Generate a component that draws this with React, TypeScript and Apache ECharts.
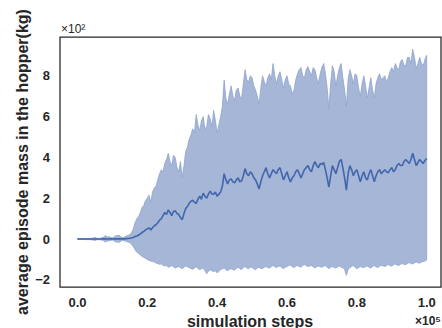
import React, { useEffect, useRef } from "react";
import * as echarts from "echarts";

// x in units of 1e5 simulation steps, sampled every 0.005 (500 steps)
const SAMPLE_STEP = 0.005;
// values in units of 1e2 kg
const meanMass = [
  0, 0, 0, 0, 0, 0, 0, 0, 0, 0,
  0, 0, 0, 0, 0, 0.01, 0.01, 0, 0, 0.01,
  0, 0.01, 0.01, 0.01, 0.01, 0.01, 0.01, 0.01, 0.02, 0.03,
  0.04, 0.06, 0.08, 0.12, 0.15, 0.2, 0.25, 0.32, 0.38, 0.45,
  0.5, 0.55, 0.45, 0.55, 0.65, 0.7, 0.8, 0.92, 1.0, 1.15,
  1.3, 1.2, 1.42, 1.3, 1.15, 1.35, 1.38, 1.25, 1.2, 1.05,
  0.95, 1.25, 1.5, 1.6, 1.75, 1.85, 1.9, 1.8, 1.75, 1.95,
  2.1, 1.95, 2.25, 2.1, 2.0, 2.2, 2.35, 2.2, 2.2, 2.3,
  2.1, 2.2, 2.3, 2.6, 3.2, 2.9, 2.7, 2.9, 2.95, 2.8,
  2.75, 2.9, 3.0, 2.8, 2.85, 3.1, 3.45, 3.2, 3.1, 3.3,
  3.2, 3.0, 2.9, 2.7, 2.45, 2.8, 3.1, 3.3, 3.5, 3.2,
  3.0, 3.2, 3.4, 3.3, 3.2, 3.4, 3.5, 3.2, 2.9, 3.1,
  3.3, 3.0, 2.8, 3.0, 3.1, 3.3, 3.4, 3.2, 3.0, 3.2,
  3.4, 3.5, 3.6, 3.4, 3.3, 3.6, 3.8, 3.6, 3.5, 3.7,
  3.65, 3.75, 3.4, 3.0, 2.55, 3.1, 3.6, 3.4, 3.2, 3.5,
  3.8, 3.9, 3.5, 3.0, 2.4, 3.2, 3.6, 3.4, 3.1, 3.3,
  3.4, 3.1, 2.8, 3.1, 3.3, 3.0, 2.9, 3.2, 3.4, 3.1,
  2.8, 3.1, 3.3, 3.4, 3.2, 3.3, 3.4, 3.3, 3.25, 3.4,
  3.5, 3.3, 3.4, 3.6, 3.7, 3.6, 3.6, 3.8, 3.9, 3.8,
  3.7, 3.9, 4.2, 3.9, 3.6, 3.75, 3.9, 3.8, 3.7, 3.85,
  3.95,
];
const upperMass = [
  0.02, 0.02, 0.02, 0.02, 0.02, 0.03, 0.03, 0.03, 0.04, 0.05,
  0.08, 0.04, 0.03, 0.04, 0.06, 0.1, 0.17, 0.1, 0.12, 0.08,
  0.06, 0.1, 0.16, 0.17, 0.18, 0.1, 0.07, 0.1, 0.15, 0.18,
  0.22, 0.32, 0.5, 0.8, 1.0, 1.1, 1.3, 1.55, 1.65, 1.9,
  2.0, 2.15, 1.8, 2.3, 2.5, 2.6, 2.9, 3.2, 3.4, 3.3,
  3.7, 3.9, 4.2, 3.8, 3.6, 4.1, 4.0, 3.5, 3.3, 3.8,
  3.0, 3.6, 4.3, 4.5, 4.9, 5.1, 5.4, 5.2, 6.1, 5.6,
  5.3, 5.8, 6.0, 5.4, 5.5, 6.1, 5.9, 5.5, 6.3, 5.8,
  5.2, 5.6, 6.0, 6.5, 7.8, 6.9, 6.6, 7.1, 7.5, 7.0,
  6.8, 7.3, 7.4, 7.0, 6.9, 7.6, 8.3, 7.8, 7.7, 8.0,
  7.9, 7.5, 7.3, 7.0, 6.6, 7.4, 8.0, 7.7, 7.5, 7.9,
  8.1, 7.8, 8.6, 8.0, 7.6, 8.0, 8.2, 7.8, 7.4, 7.8,
  8.0, 7.6, 7.5, 7.1, 7.3, 7.8, 8.1, 8.3, 8.4, 8.0,
  7.9, 8.3, 8.45, 8.2, 8.0, 8.4, 8.3, 7.9, 7.6, 8.1,
  8.4, 8.6, 8.1, 7.4, 6.4, 7.6, 8.5, 8.2, 7.5, 8.0,
  8.4, 8.6, 7.9, 7.3, 6.5, 7.8, 8.3, 8.0, 7.6, 8.1,
  8.0, 7.4, 7.0, 7.6, 8.0, 7.5, 6.9, 7.4, 7.9, 7.3,
  6.9, 7.6, 7.9, 8.1, 7.8, 7.9, 8.0, 7.7, 7.9, 8.2,
  8.4, 8.2, 8.6, 8.4, 8.3, 8.7, 8.8, 8.5, 8.5, 8.9,
  8.9, 8.6, 9.3, 8.9, 8.35, 8.6, 8.9, 8.6, 8.5, 8.8,
  9.0,
];
const lowerMass = [
  -0.02, -0.02, -0.02, -0.02, -0.02, -0.03, -0.03, -0.03, -0.04, -0.05,
  -0.07, -0.04, -0.03, -0.04, -0.05, -0.08, -0.15, -0.09, -0.1, -0.07,
  -0.05, -0.09, -0.14, -0.15, -0.16, -0.09, -0.06, -0.09, -0.12, -0.15,
  -0.18, -0.26, -0.38, -0.52, -0.65, -0.7, -0.78, -0.85, -0.9, -0.95,
  -1.0, -1.05, -1.08, -1.1, -1.12, -1.18, -1.2, -1.24, -1.22, -1.28,
  -1.32, -1.3, -1.38, -1.35, -1.3, -1.36, -1.42, -1.38, -1.35, -1.4,
  -1.45, -1.38, -1.32, -1.36, -1.4, -1.45, -1.48, -1.42, -1.36, -1.44,
  -1.5, -1.45, -1.42, -1.55, -1.7, -1.58, -1.5, -1.55, -1.6, -1.55,
  -1.66, -1.58, -1.5, -1.46, -1.42, -1.5, -1.55, -1.48, -1.45, -1.5,
  -1.52, -1.44, -1.38, -1.45, -1.5, -1.4, -1.35, -1.42, -1.45, -1.38,
  -1.4, -1.46, -1.5, -1.42, -1.38, -1.44, -1.45, -1.38, -1.35, -1.4,
  -1.42, -1.35, -1.3, -1.36, -1.4, -1.34, -1.32, -1.4, -1.45, -1.38,
  -1.35, -1.3, -1.28, -1.35, -1.4, -1.33, -1.3, -1.35, -1.38, -1.3,
  -1.25, -1.3, -1.35, -1.32, -1.3, -1.36, -1.42, -1.36, -1.32, -1.36,
  -1.38, -1.33, -1.3, -1.38, -1.45, -1.38, -1.35, -1.4, -1.42, -1.36,
  -1.32, -1.38, -1.4, -1.5, -1.78, -1.5, -1.4, -1.35, -1.3, -1.38,
  -1.45, -1.4, -1.35, -1.38, -1.4, -1.35, -1.32, -1.38, -1.42, -1.35,
  -1.3, -1.36, -1.4, -1.33, -1.28, -1.32, -1.35, -1.3, -1.25, -1.3,
  -1.32, -1.26, -1.22, -1.27, -1.3, -1.24, -1.2, -1.24, -1.25, -1.2,
  -1.15, -1.2, -1.22, -1.16, -1.12, -1.16, -1.18, -1.13, -1.1, -1.08,
  -1.03,
];
const xTickValues = [0, 0.2, 0.4, 0.6, 0.8, 1.0];
const yTickValues = [-2, 0, 2, 4, 6, 8];

const TEXT = "#262626";
const BAND = "#a5b6d7";
const BAND_EDGE = "#8ea3cc";
const MEAN = "#4266ad";

export default function App() {
  const ref = useRef<HTMLDivElement>(null);
  useEffect(() => {
    if (!ref.current) return;
    const chart = echarts.init(ref.current, null, { renderer: "svg" });
    const xs = meanMass.map((_, i) => +(i * SAMPLE_STEP).toFixed(3));
    const lowerData = lowerMass.map((v, i) => [xs[i], v]);
    const upperData = upperMass.map((v, i) => [xs[i], v]);
    const meanData = meanMass.map((v, i) => [xs[i], v]);
    const fam = "Liberation Sans, Arial, sans-serif";
    chart.setOption({
      animation: false,
      backgroundColor: "#ffffff",
      grid: {
        left: 60,
        top: 37,
        right: 1,
        bottom: 41,
        show: true,
        borderColor: TEXT,
        borderWidth: 1.25,
        backgroundColor: "transparent",
        containLabel: false,
      },
      xAxis: {
        type: "value",
        min: -0.05,
        max: 1.041,
        axisLine: { show: false },
        axisTick: { show: false },
        splitLine: { show: false },
        axisLabel: {
          customValues: xTickValues,
          formatter: (v: number) => v.toFixed(1),
          color: TEXT,
          fontWeight: "bold",
          fontSize: 13,
          fontFamily: fam,
          margin: 9,
        },
      },
      yAxis: {
        type: "value",
        min: -2.35,
        max: 9.9,
        axisLine: { show: false },
        axisTick: { show: false },
        splitLine: { show: false },
        axisLabel: {
          customValues: yTickValues,
          formatter: (v: number) => (v < 0 ? "\u2212" + Math.abs(v) : String(v)),
          color: TEXT,
          fontWeight: "bold",
          fontSize: 13,
          fontFamily: fam,
          margin: 10,
        },
      },
      series: [
        {
          type: "custom",
          name: "band",
          data: [[0, 0]],
          z: 1,
          silent: true,
          renderItem: (_params: any, api: any) => {
            const pts: number[][] = [];
            upperData.forEach((p) => pts.push(api.coord(p)));
            for (let i = lowerData.length - 1; i >= 0; i--) pts.push(api.coord(lowerData[i]));
            return {
              type: "polygon",
              shape: { points: pts },
              style: { fill: BAND, stroke: BAND_EDGE, lineWidth: 0.8 },
            };
          },
        },
        {
          type: "line",
          name: "mean",
          data: meanData,
          symbol: "none",
          lineStyle: { color: MEAN, width: 1.6 },
          z: 3,
        },
      ],
      graphic: [
        {
          type: "text",
          x: 22,
          y: 162,
          rotation: Math.PI / 2,
          style: {
            text: "average episode mass in the hopper(kg)",
            fill: TEXT,
            fontSize: 16,
            fontWeight: "bold",
            fontFamily: fam,
            align: "center",
            verticalAlign: "middle",
          },
        },
        {
          type: "text",
          x: 250,
          y: 321,
          style: {
            text: "simulation steps",
            fill: TEXT,
            fontSize: 16,
            fontWeight: "bold",
            fontFamily: fam,
            align: "center",
            verticalAlign: "middle",
          },
        },
        {
          type: "text",
          x: 61,
          y: 29,
          style: {
            text: "\u00d710\u00b2",
            fill: TEXT,
            fontSize: 12,
            fontFamily: fam,
            align: "left",
            verticalAlign: "middle",
          },
        },
        {
          type: "text",
          x: 415,
          y: 321,
          style: {
            text: "\u00d710\u2075",
            fill: TEXT,
            fontSize: 12,
            fontWeight: "bold",
            fontFamily: fam,
            align: "left",
            verticalAlign: "middle",
          },
        },
      ],
    });
    return () => chart.dispose();
  }, []);
  return (
    <div
      ref={ref}
      style={{ position: "fixed", left: 0, top: 0, width: 442, height: 328 }}
    />
  );
}
